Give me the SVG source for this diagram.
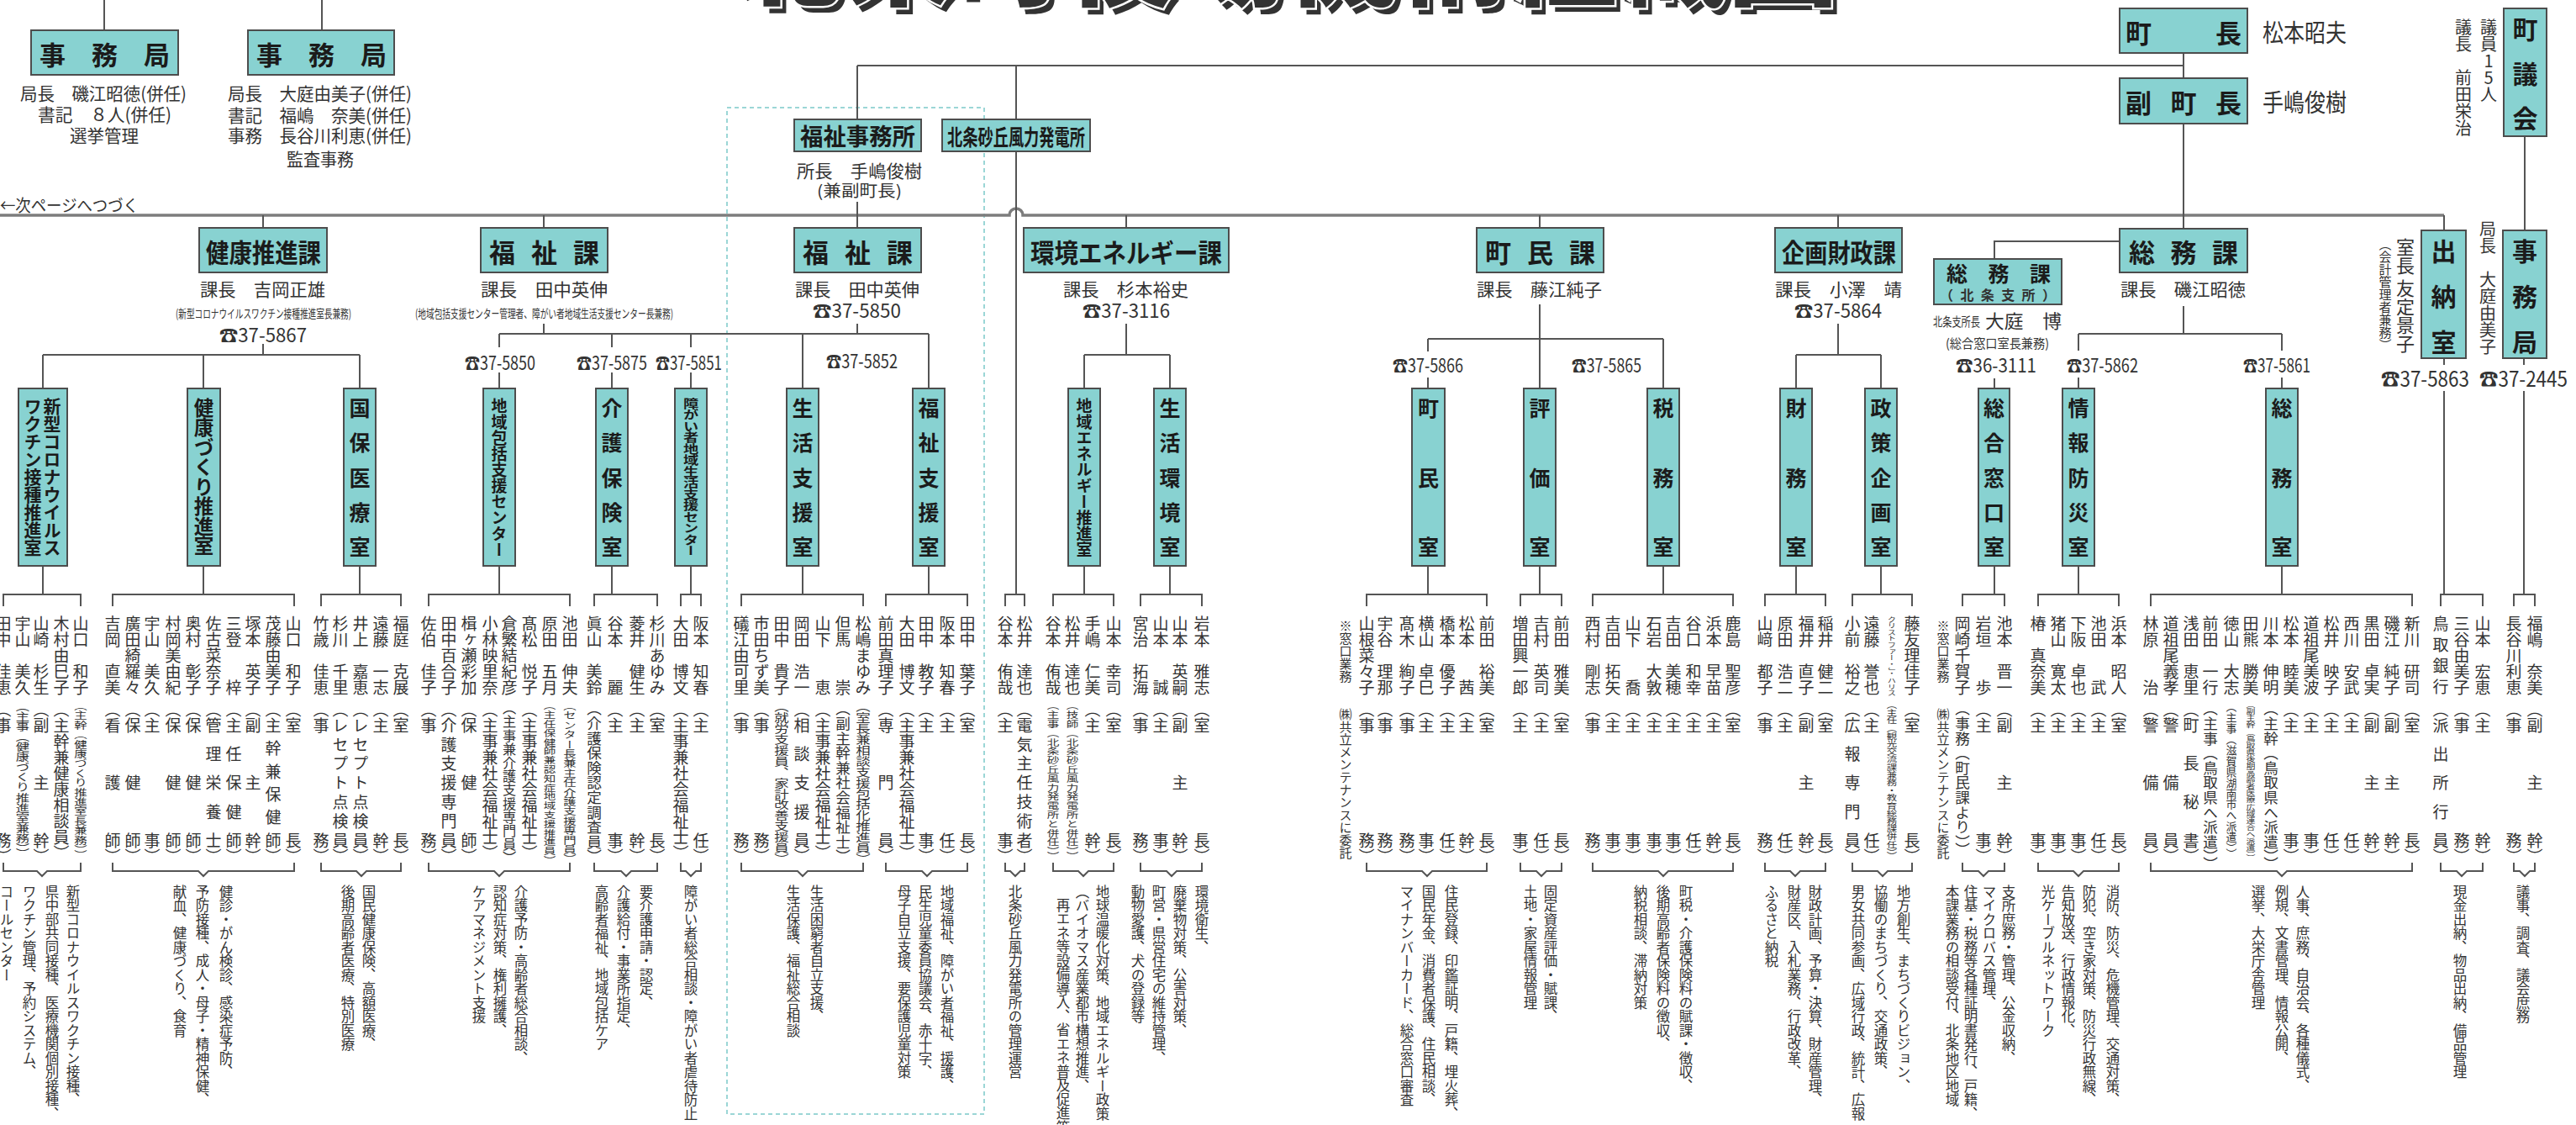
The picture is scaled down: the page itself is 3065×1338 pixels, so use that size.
<svg xmlns="http://www.w3.org/2000/svg" width="3065" height="1338" viewBox="0 0 3065 1338">
<defs>
<style>
text{font-family:"Noto Sans CJK JP","Noto Sans CJK SC","DejaVu Sans",sans-serif;fill:#333}
.bx{fill:#88d2d1;stroke:#4d4d4d;stroke-width:2}
.ln{fill:none;stroke:#555;stroke-width:2}
.mln{fill:none;stroke:#7d7d7d;stroke-width:3.5}
.dot{fill:none;stroke:#9bd6d6;stroke-width:2;stroke-dasharray:5 4}
.hb{font-weight:700;fill:#1b1b1b;dominant-baseline:central}
.h{dominant-baseline:central}
.vb{font-weight:700;fill:#1b1b1b;writing-mode:vertical-rl}
.v{writing-mode:vertical-rl}
.n{writing-mode:vertical-rl}
.t{writing-mode:vertical-rl}
.d{writing-mode:vertical-rl}
.w{transform-box:fill-box;transform-origin:center;transform:scaleX(1.35)}
</style>
</defs>
<rect width="3065" height="1338" fill="#fff"/>

<g id="title" font-weight="900" font-size="131">
<text x="879" y="4" fill="#6fb4b4" textLength="1315" lengthAdjust="spacingAndGlyphs">北栄町役場機構組織図</text>
<text x="872" y="-4" fill="#231f20" stroke="#fff" stroke-width="5" paint-order="stroke" textLength="1315" lengthAdjust="spacingAndGlyphs">北栄町役場機構組織図</text>
</g>

<rect class="dot" x="865" y="128" width="306" height="1197"/>

<g id="connectors">
<path class="mln" d="M0 256H1201a8 8 0 0 1 16 0H2908"/>
<path class="ln" d="M124 0V36M383 0V36M1020 78H2598M1020 78V142M1209 78V142M2598 63V93M2598 147V272M3004 162V274M1020 240V271M1209 180V707
M313 256V271M647 256V271M1340 256V271M1832 256V271M2187 256V271M2908 256V274
M313 409V422M51 422H428M51 422V462M242 422V462M428 422V462
M647 385V397M1020 385V397M594 397H1105M594 397V413M594 443V462M728 397V413M728 443V462M822 397V413M822 443V462M955 397V462M1105 397V462
M1340 385V422M1290 422H1392M1290 422V462M1392 422V462
M1832 362V462M1699 403H1979M1699 403V418M1699 449V462M1979 403V462
M2187 385V422M2137 422H2238M2137 422V462M2238 422V462
M2522 287H2373V308M2373 450V462M2598 364V397M2473 397H2715M2473 397V417M2473 449V462M2715 397V417M2715 449V462
M2908 426V434M2908 465V707M3003 426V434M3003 465V707
M51 673V707M242 673V707M428 673V707M594 673V707M728 673V707M822 673V707M955 673V707M1105 673V707M1290 673V707M1392 673V707M1699 673V707M1832 673V707M1979 673V707M2137 673V707M2238 673V707M2373 673V707M2473 673V707M2715 673V707
M4 721V707H96V721M134 721V707H350V721M382 721V707H477V721M510 721V707H678V721M707 721V707H782V721M810 721V707H834V721M882 721V707H1027V721M1054 721V707H1151V721M1196 721V707H1219V721M1253 721V707H1325V721M1357 721V707H1430V721M1626 721V707H1769V721M1809 721V707H1858V721M1895 721V707H2062V721M2100 721V707H2172V721M2204 721V707H2275V721M2335 721V707H2385V721M2425 721V707H2521V721M2559 721V707H2870V721M2904 721V707H2954V721M2991 721V707H3016V721
M4 1026V1036H44L50 1042L56 1036H96V1026M134 1026V1036H236L242 1042L248 1036H350V1026M382 1026V1036H424L430 1042L436 1036H477V1026M510 1026V1036H588L594 1042L600 1036H678V1026M707 1026V1036H739L745 1042L751 1036H782V1026M810 1026V1036H816L822 1042L828 1036H834V1026M882 1026V1036H949L955 1042L961 1036H1027V1026M1054 1026V1036H1097L1103 1042L1109 1036H1151V1026M1196 1026V1036H1202L1208 1042L1214 1036H1219V1026M1253 1026V1036H1283L1289 1042L1295 1036H1325V1026M1357 1026V1036H1388L1394 1042L1400 1036H1430V1026M1626 1026V1036H1692L1698 1042L1704 1036H1769V1026M1809 1026V1036H1828L1834 1042L1840 1036H1858V1026M1895 1026V1036H1973L1979 1042L1985 1036H2062V1026M2100 1026V1036H2130L2136 1042L2142 1036H2172V1026M2204 1026V1036H2234L2240 1042L2246 1036H2275V1026M2335 1026V1036H2354L2360 1042L2366 1036H2385V1026M2425 1026V1036H2467L2473 1042L2479 1036H2521V1026M2559 1026V1036H2709L2715 1042L2721 1036H2870V1026M2904 1026V1036H2923L2929 1042L2935 1036H2954V1026M2991 1026V1036H2998L3004 1042L3010 1036H3016V1026"/>
</g>

<g id="jimukyoku-senkyo">
<rect class="bx" x="37" y="36" width="175" height="53"/>
<text class="hb" x="47" y="63" font-size="31" textLength="155" lengthAdjust="spacing">事務局</text>
<text class="h" x="24" y="110" font-size="21" textLength="198" lengthAdjust="spacingAndGlyphs">局長　磯江昭徳(併任)</text>
<text class="h" x="45" y="135" font-size="21" textLength="159" lengthAdjust="spacingAndGlyphs">書記　８人(併任)</text>
<text class="h" x="83" y="160" font-size="21" textLength="82" lengthAdjust="spacingAndGlyphs">選挙管理</text>
</g>
<g id="jimukyoku-kansa">
<rect class="bx" x="295" y="36" width="174" height="53"/>
<text class="hb" x="305" y="63" font-size="31" textLength="155" lengthAdjust="spacing">事務局</text>
<text class="h" x="271" y="110" font-size="21" textLength="219" lengthAdjust="spacingAndGlyphs">局長　大庭由美子(併任)</text>
<text class="h" x="271" y="136" font-size="21" textLength="219" lengthAdjust="spacingAndGlyphs">書記　福嶋　奈美(併任)</text>
<text class="h" x="271" y="160" font-size="21" textLength="219" lengthAdjust="spacingAndGlyphs">事務　長谷川利恵(併任)</text>
<text class="h" x="341" y="188" font-size="21" textLength="80" lengthAdjust="spacingAndGlyphs">監査事務</text>
</g>
<text class="h" x="0" y="243" font-size="20" textLength="165" lengthAdjust="spacingAndGlyphs">←次ページへつづく</text>

<g id="chocho">
<rect class="bx" x="2522" y="10" width="152" height="53"/>
<text class="hb" x="2529" y="37" font-size="31" textLength="138" lengthAdjust="spacing">町長</text>
<text class="h" x="2692" y="37" font-size="29" textLength="100" lengthAdjust="spacingAndGlyphs">松本昭夫</text>
</g>
<g id="fukuchocho">
<rect class="bx" x="2522" y="93" width="152" height="54"/>
<text class="hb" x="2529" y="120" font-size="31" textLength="138" lengthAdjust="spacing">副町長</text>
<text class="h" x="2692" y="120" font-size="29" textLength="100" lengthAdjust="spacingAndGlyphs">手嶋俊樹</text>
</g>
<g id="gikai">
<rect class="bx" x="2979" y="10" width="51" height="152"/>
<text class="vb" x="3004.5" y="20" font-size="30" dy="0 23 23">町議会</text>
<text class="v" x="2961" y="22" font-size="20" style="text-orientation:upright">議員15人</text>
<text class="v" x="2931" y="22" font-size="20">議長　前田栄治</text>
</g>

<g id="fukushi-jimusho">
<rect class="bx" x="945" y="142" width="151" height="38"/>
<text class="hb" x="952" y="161" font-size="28" textLength="137" lengthAdjust="spacingAndGlyphs">福祉事務所</text>
<text class="h" x="948" y="202" font-size="21" textLength="149" lengthAdjust="spacingAndGlyphs">所長　手嶋俊樹</text>
<text class="h" x="972" y="225" font-size="19" textLength="101" lengthAdjust="spacingAndGlyphs">(兼副町長)</text>
</g>
<g id="furyoku">
<rect class="bx" x="1121" y="142" width="176" height="38"/>
<text class="hb" x="1127" y="161" font-size="26" textLength="164" lengthAdjust="spacingAndGlyphs">北条砂丘風力発電所</text>
</g>

<g id="dept-kenko">
<rect class="bx" x="237" y="271" width="152" height="53"/>
<text class="hb" x="245" y="298" font-size="31" textLength="137" lengthAdjust="spacingAndGlyphs">健康推進課</text>
<text class="h" x="238" y="343" font-size="21" textLength="149" lengthAdjust="spacingAndGlyphs">課長　吉岡正雄</text>
<text class="h" x="209" y="372" font-size="14" textLength="209" lengthAdjust="spacingAndGlyphs">(新型コロナウイルスワクチン接種推進室長兼務)</text>
<text class="h" x="261" y="397" font-size="23" textLength="104" lengthAdjust="spacingAndGlyphs">☎37-5867</text>
</g>
<g id="dept-fukushi-1">
<rect class="bx" x="572" y="271" width="151" height="53"/>
<text class="hb" x="582" y="298" font-size="31" textLength="131" lengthAdjust="spacing">福祉課</text>
<text class="h" x="572" y="343" font-size="21" textLength="151" lengthAdjust="spacingAndGlyphs">課長　田中英伸</text>
<text class="h" x="494" y="372" font-size="14" textLength="307" lengthAdjust="spacingAndGlyphs">(地域包括支援センター管理者、障がい者地域生活支援センター長兼務)</text>
<text class="h" x="553" y="430" font-size="23" textLength="84" lengthAdjust="spacingAndGlyphs">☎37-5850</text>
<text class="h" x="686" y="430" font-size="23" textLength="84" lengthAdjust="spacingAndGlyphs">☎37-5875</text>
<text class="h" x="780" y="430" font-size="23" textLength="79" lengthAdjust="spacingAndGlyphs">☎37-5851</text>
</g>
<g id="dept-fukushi-2">
<rect class="bx" x="945" y="271" width="151" height="53"/>
<text class="hb" x="955" y="298" font-size="31" textLength="131" lengthAdjust="spacing">福祉課</text>
<text class="h" x="946" y="343" font-size="21" textLength="148" lengthAdjust="spacingAndGlyphs">課長　田中英伸</text>
<text class="h" x="967" y="368" font-size="23" textLength="105" lengthAdjust="spacingAndGlyphs">☎37-5850</text>
<text class="h" x="983" y="428" font-size="23" textLength="85" lengthAdjust="spacingAndGlyphs">☎37-5852</text>
</g>
<g id="dept-kankyo">
<rect class="bx" x="1218" y="271" width="244" height="53"/>
<text class="hb" x="1226" y="298" font-size="31" textLength="228" lengthAdjust="spacingAndGlyphs">環境エネルギー課</text>
<text class="h" x="1265" y="343" font-size="21" textLength="149" lengthAdjust="spacingAndGlyphs">課長　杉本裕史</text>
<text class="h" x="1288" y="368" font-size="23" textLength="104" lengthAdjust="spacingAndGlyphs">☎37-3116</text>
</g>
<g id="dept-chomin">
<rect class="bx" x="1757" y="271" width="151" height="53"/>
<text class="hb" x="1767" y="298" font-size="31" textLength="131" lengthAdjust="spacing">町民課</text>
<text class="h" x="1757" y="343" font-size="21" textLength="149" lengthAdjust="spacingAndGlyphs">課長　藤江純子</text>
<text class="h" x="1657" y="433" font-size="23" textLength="84" lengthAdjust="spacingAndGlyphs">☎37-5866</text>
<text class="h" x="1870" y="433" font-size="23" textLength="83" lengthAdjust="spacingAndGlyphs">☎37-5865</text>
</g>
<g id="dept-kikaku">
<rect class="bx" x="2112" y="271" width="151" height="53"/>
<text class="hb" x="2120" y="298" font-size="31" textLength="136" lengthAdjust="spacingAndGlyphs">企画財政課</text>
<text class="h" x="2112" y="343" font-size="21" textLength="151" lengthAdjust="spacingAndGlyphs">課長　小澤　靖</text>
<text class="h" x="2135" y="368" font-size="23" textLength="104" lengthAdjust="spacingAndGlyphs">☎37-5864</text>
</g>
<g id="dept-somu">
<rect class="bx" x="2522" y="272" width="152" height="52"/>
<text class="hb" x="2533" y="298" font-size="31" textLength="130" lengthAdjust="spacing">総務課</text>
<text class="h" x="2523" y="343" font-size="21" textLength="149" lengthAdjust="spacingAndGlyphs">課長　磯江昭徳</text>
<text class="h" x="2459" y="433" font-size="23" textLength="85" lengthAdjust="spacingAndGlyphs">☎37-5862</text>
<text class="h" x="2669" y="433" font-size="23" textLength="80" lengthAdjust="spacingAndGlyphs">☎37-5861</text>
</g>
<g id="dept-somu-hojo">
<rect class="bx" x="2301" y="308" width="152" height="54"/>
<text class="hb" x="2316" y="324" font-size="25" textLength="124" lengthAdjust="spacing">総務課</text>
<text class="h" x="2308" y="350" font-size="16" font-weight="700" fill="#1b1b1b" textLength="138" lengthAdjust="spacing">（北条支所）</text>
<text class="h" x="2300" y="381" font-size="15" textLength="56" lengthAdjust="spacingAndGlyphs">北条支所長</text>
<text class="h" x="2362" y="380" font-size="22" textLength="91" lengthAdjust="spacingAndGlyphs">大庭　博</text>
<text class="h" x="2315" y="407" font-size="15" textLength="123" lengthAdjust="spacingAndGlyphs">(総合窓口室長兼務)</text>
<text class="h" x="2327" y="433" font-size="23" textLength="96" lengthAdjust="spacingAndGlyphs">☎36-3111</text>
</g>
<g id="suitoshitsu">
<rect class="bx" x="2881" y="274" width="53" height="152"/>
<text class="vb" x="2907.5" y="284" font-size="30" dy="0 24 24">出納室</text>
<text class="v" x="2862" y="283" font-size="22">室長 友定景子</text>
<text class="v" x="2838" y="283" font-size="15">（会計管理者兼務）</text>
<text class="h" x="2833" y="449" font-size="25" textLength="105" lengthAdjust="spacingAndGlyphs">☎37-5863</text>
</g>
<g id="gikai-jimukyoku">
<rect class="bx" x="2978" y="274" width="52" height="152"/>
<text class="vb" x="3004" y="284" font-size="30" dy="0 24 24">事務局</text>
<text class="v" x="2960" y="262" font-size="20">局長　大庭由美子</text>
<text class="h" x="2950" y="449" font-size="25" textLength="105" lengthAdjust="spacingAndGlyphs">☎37-2445</text>
</g>

<g id="room-corona" font-size="19">
<rect class="bx" x="22" y="462" width="58" height="211"/>
<text class="vb" x="62" y="473" font-size="21">新型コロナウイルス</text>
<text class="vb" x="39" y="473" font-size="21">ワクチン接種推進室</text>
<text class="n" x="96" y="732">山口　和子</text><text class="t w" x="96" y="834" font-size="11.4">（主幹（健康づくり推進室長兼務））</text>
<text class="n" x="73" y="732">木村由巳子</text><text class="t" x="73" y="834">（主幹兼健康相談員）</text>
<text class="n" x="49" y="732">山崎　杉生</text><text class="t" x="49" y="834" dy="0 0 49.5 49.5">（副主幹）</text>
<text class="n" x="27" y="732">宇山　美久</text><text class="t w" x="27" y="834" font-size="12.1">（主事（健康づくり推進室兼務））</text>
<text class="n" x="4" y="732">田中　佳恵</text><text class="t" x="4" y="834" dy="0 0 118">（事務）</text>
<text class="d" x="87" y="1052" font-size="16.5">新型コロナウイルスワクチン接種、</text>
<text class="d" x="62" y="1052" font-size="16.5">県中部共同接種、医療機関個別接種、</text>
<text class="d" x="35" y="1052" font-size="16.5">ワクチン管理、予約システム、</text>
<text class="d" x="8" y="1052" font-size="16.5">コールセンター</text>
</g>
<g id="room-kenkozukuri" font-size="19">
<rect class="bx" x="223" y="462" width="39" height="211"/>
<text class="vb" x="242.5" y="473" font-size="23.5">健康づくり推進室</text>
<text class="n" x="349" y="732">山口　和子</text><text class="t" x="349" y="834" dy="0 0 118">（室長）</text>
<text class="n" x="325" y="732">茂藤由美子</text><text class="t" x="325" y="834" dy="0 0 8.4 8.4 8.4 8.4 8.4">（主幹兼保健師）</text>
<text class="n" x="301" y="732">塚本　英子</text><text class="t" x="301" y="834" dy="0 0 49.5 49.5">（副主幹）</text>
<text class="n" x="278" y="732">三登　　梓</text><text class="t" x="278" y="834" dy="0 0 15.3 15.3 15.3 15.3">（主任保健師）</text>
<text class="n" x="254" y="732">佐古菜奈子</text><text class="t" x="254" y="834" dy="0 0 15.3 15.3 15.3 15.3">（管理栄養士）</text>
<text class="n" x="230" y="732">奥村　彰子</text><text class="t" x="230" y="834" dy="0 0 49.5 49.5">（保健師）</text>
<text class="n" x="206" y="732">村岡美由紀</text><text class="t" x="206" y="834" dy="0 0 49.5 49.5">（保健師）</text>
<text class="n" x="181" y="732">宇山　美久</text><text class="t" x="181" y="834" dy="0 0 118">（主事）</text>
<text class="n" x="158" y="732">廣田綺羅々</text><text class="t" x="158" y="834" dy="0 0 49.5 49.5">（保健師）</text>
<text class="n" x="134" y="732">吉岡　直美</text><text class="t" x="134" y="834" dy="0 0 49.5 49.5">（看護師）</text>
<text class="d" x="269" y="1052" font-size="16.5">健診・がん検診、感染症予防、</text>
<text class="d" x="241" y="1052" font-size="16.5">予防接種、成人・母子・精神保健、</text>
<text class="d" x="214" y="1052" font-size="16.5">献血、健康づくり、食育</text>
</g>
<g id="room-kokuho" font-size="19">
<rect class="bx" x="409" y="462" width="38" height="211"/>
<text class="vb" x="428" y="473" font-size="25" dy="0 16.25 16.25 16.25 16.25">国保医療室</text>
<text class="n" x="477" y="732">福庭　克展</text><text class="t" x="477" y="834" dy="0 0 118">（室長）</text>
<text class="n" x="453" y="732">遠藤　一志</text><text class="t" x="453" y="834" dy="0 0 118">（主幹）</text>
<text class="n" x="429" y="732">井上　嘉恵</text><text class="t" x="429" y="834" dy="0 0 3.8 3.8 3.8 3.8 3.8 3.8">（レセプト点検員）</text>
<text class="n" x="405" y="732">杉川　千里</text><text class="t" x="405" y="834" dy="0 0 3.8 3.8 3.8 3.8 3.8 3.8">（レセプト点検員）</text>
<text class="n" x="382" y="732">竹歳　佳恵</text><text class="t" x="382" y="834" dy="0 0 118">（事務）</text>
<text class="d" x="439" y="1052" font-size="16.5">国民健康保険、高額医療、</text>
<text class="d" x="414" y="1052" font-size="16.5">後期高齢者医療、特別医療</text>
</g>
<g id="room-chiikihokatsu" font-size="19">
<rect class="bx" x="575" y="462" width="38" height="211"/>
<text class="vb" x="594" y="473" font-size="19">地域包括支援センター</text>
<text class="n" x="678" y="732">池田　伸夫</text><text class="t w" x="678" y="834" font-size="11.4">（センター長兼主任介護支援専門員）</text>
<text class="n" x="654" y="732">原田　五月</text><text class="t w" x="654" y="834" font-size="10.8">（主任保健師兼認知症地域支援推進員）</text>
<text class="n" x="630" y="732">髙松　悦子</text><text class="t" x="630" y="834">（主事兼社会福祉士）</text>
<text class="n" x="606" y="732">倉繁結紀彦</text><text class="t" x="606" y="834" font-size="16.2">（主事兼介護支援専門員）</text>
<text class="n" x="583" y="732">小林映里奈</text><text class="t" x="583" y="834">（主事兼社会福祉士）</text>
<text class="n" x="558" y="732">楫ヶ瀬彩加</text><text class="t" x="558" y="834" dy="0 0 49.5 49.5">（保健師）</text>
<text class="n" x="534" y="732">田中百合子</text><text class="t" x="534" y="834" dy="0 0 3.8 3.8 3.8 3.8 3.8 3.8">（介護支援専門員）</text>
<text class="n" x="510" y="732">佐伯　佳子</text><text class="t" x="510" y="834" dy="0 0 118">（事務）</text>
<text class="d" x="620" y="1052" font-size="16.5">介護予防・高齢者総合相談、</text>
<text class="d" x="595" y="1052" font-size="16.5">認知症対策、権利擁護、</text>
<text class="d" x="570" y="1052" font-size="16.5">ケアマネジメント支援</text>
</g>
<g id="room-kaigo" font-size="19">
<rect class="bx" x="709" y="462" width="38" height="211"/>
<text class="vb" x="728" y="473" font-size="25" dy="0 16.25 16.25 16.25 16.25">介護保険室</text>
<text class="n" x="782" y="732">杉川あゆみ</text><text class="t" x="782" y="834" dy="0 0 118">（室長）</text>
<text class="n" x="758" y="732">菱井　健生</text><text class="t" x="758" y="834" dy="0 0 118">（主幹）</text>
<text class="n" x="732" y="732">谷本　　麗</text><text class="t" x="732" y="834" dy="0 0 118">（主事）</text>
<text class="n" x="707" y="732">眞山　美鈴</text><text class="t" x="707" y="834" font-size="17.6">（介護保険認定調査員）</text>
<text class="d" x="769" y="1052" font-size="16.5">要介護申請・認定、</text>
<text class="d" x="742" y="1052" font-size="16.5">介護給付・事業所指定、</text>
<text class="d" x="716" y="1052" font-size="16.5">高齢者福祉、地域包括ケア</text>
</g>
<g id="room-shogai" font-size="19">
<rect class="bx" x="803" y="462" width="38" height="211"/>
<text class="vb w" x="822" y="473" font-size="13.5">障がい者地域生活支援センター</text>
<text class="n" x="834" y="732">阪本　知春</text><text class="t" x="834" y="834" dy="0 0 118">（主任）</text>
<text class="n" x="810" y="732">大田　博文</text><text class="t" x="810" y="834">（主事兼社会福祉士）</text>
<text class="d" x="822" y="1052" font-size="16.5">障がい者総合相談・障がい者虐待防止</text>
</g>
<g id="room-seikatsushien" font-size="19">
<rect class="bx" x="936" y="462" width="38" height="211"/>
<text class="vb" x="955" y="473" font-size="25" dy="0 16.25 16.25 16.25 16.25">生活支援室</text>
<text class="n" x="1027" y="732">松嶋まゆみ</text><text class="t w" x="1027" y="834" font-size="12.9">（室長兼相談支援包括化推進員）</text>
<text class="n" x="1003" y="732">但馬　　崇</text><text class="t" x="1003" y="834" font-size="17.6">（副主幹兼社会福祉士）</text>
<text class="n" x="979" y="732">山下　　恵</text><text class="t" x="979" y="834">（主事兼社会福祉士）</text>
<text class="n" x="954" y="732">岡田　浩一</text><text class="t" x="954" y="834" dy="0 0 15.3 15.3 15.3 15.3">（相談支援員）</text>
<text class="n" x="930" y="732">田中　貴子</text><text class="t w" x="930" y="834" font-size="12.9">（就労支援員、家計改善支援員）</text>
<text class="n" x="906" y="732">市田ちず美</text><text class="t" x="906" y="834" dy="0 0 118">（事務）</text>
<text class="n" x="882" y="732">礒江由可里</text><text class="t" x="882" y="834" dy="0 0 118">（事務）</text>
<text class="d" x="972" y="1052" font-size="16.5">生活困窮者自立支援、</text>
<text class="d" x="944" y="1052" font-size="16.5">生活保護、福祉総合相談</text>
</g>
<g id="room-fukushishien" font-size="19">
<rect class="bx" x="1086" y="462" width="38" height="211"/>
<text class="vb" x="1105" y="473" font-size="25" dy="0 16.25 16.25 16.25 16.25">福祉支援室</text>
<text class="n" x="1151" y="732">田中　葉子</text><text class="t" x="1151" y="834" dy="0 0 118">（室長）</text>
<text class="n" x="1127" y="732">阪本　知春</text><text class="t" x="1127" y="834" dy="0 0 118">（主任）</text>
<text class="n" x="1102" y="732">田中　教子</text><text class="t" x="1102" y="834" dy="0 0 118">（主事）</text>
<text class="n" x="1079" y="732">大田　博文</text><text class="t" x="1079" y="834">（主事兼社会福祉士）</text>
<text class="n" x="1054" y="732">前田真理子</text><text class="t" x="1054" y="834" dy="0 0 49.5 49.5">（専門員）</text>
<text class="d" x="1127" y="1052" font-size="16.5">地域福祉、障がい者福祉、援護、</text>
<text class="d" x="1101" y="1052" font-size="16.5">民生児童委員協議会、赤十字、</text>
<text class="d" x="1076" y="1052" font-size="16.5">母子自立支援、要保護児童対策</text>
</g>
<g id="staff-furyoku" font-size="19">
<text class="n" x="1219" y="732">松井　達也</text><text class="t" x="1219" y="834" dy="0 0 3.8 3.8 3.8 3.8 3.8 3.8">（電気主任技術者）</text>
<text class="n" x="1196" y="732">谷本　侑哉</text><text class="t" x="1196" y="834" dy="0 0 118">（主事）</text>
<text class="d" x="1208" y="1052" font-size="16.5">北条砂丘風力発電所の管理運営</text>
</g>
<g id="room-chiikienergy" font-size="19">
<rect class="bx" x="1271" y="462" width="38" height="211"/>
<text class="vb" x="1290" y="473" font-size="19">地域エネルギー推進室</text>
<text class="n" x="1325" y="732">山本　幸司</text><text class="t" x="1325" y="834" dy="0 0 118">（室長）</text>
<text class="n" x="1300" y="732">手嶋　仁美</text><text class="t" x="1300" y="834" dy="0 0 118">（主幹）</text>
<text class="n" x="1276" y="732">松井　達也</text><text class="t w" x="1276" y="834" font-size="10.8">（技師（北条砂丘風力発電所と併任））</text>
<text class="n" x="1253" y="732">谷本　侑哉</text><text class="t w" x="1253" y="834" font-size="10.8">（主事（北条砂丘風力発電所と併任））</text>
<text class="d" x="1312" y="1052" font-size="16.5">地球温暖化対策、地域エネルギー政策</text>
<text class="d" x="1288" y="1052" font-size="16.5">（バイオマス産業都市構想推進、</text>
<text class="d" x="1265" y="1068" font-size="16.5">再エネ等設備導入、省エネ普及促進等）</text>
</g>
<g id="room-seikatsukankyo" font-size="19">
<rect class="bx" x="1373" y="462" width="38" height="211"/>
<text class="vb" x="1392" y="473" font-size="25" dy="0 16.25 16.25 16.25 16.25">生活環境室</text>
<text class="n" x="1430" y="732">岩本　雅志</text><text class="t" x="1430" y="834" dy="0 0 118">（室長）</text>
<text class="n" x="1404" y="732">山本　英嗣</text><text class="t" x="1404" y="834" dy="0 0 49.5 49.5">（副主幹）</text>
<text class="n" x="1381" y="732">山本　　誠</text><text class="t" x="1381" y="834" dy="0 0 118">（主事）</text>
<text class="n" x="1357" y="732">宮治　拓海</text><text class="t" x="1357" y="834" dy="0 0 118">（事務）</text>
<text class="d" x="1430" y="1052" font-size="16.5">環境衛生、</text>
<text class="d" x="1404" y="1052" font-size="16.5">廃棄物対策、公害対策、</text>
<text class="d" x="1379" y="1052" font-size="16.5">町営・県営住宅の維持管理、</text>
<text class="d" x="1354" y="1052" font-size="16.5">動物愛護、犬の登録等</text>
</g>
<g id="room-chominshitsu" font-size="19">
<rect class="bx" x="1680" y="462" width="39" height="211"/>
<text class="vb" x="1699.5" y="473" font-size="25" dy="0 57.5 57.5">町民室</text>
<text class="n" x="1769" y="732">前田　裕美</text><text class="t" x="1769" y="834" dy="0 0 118">（室長）</text>
<text class="n" x="1745" y="732">松本　　茜</text><text class="t" x="1745" y="834" dy="0 0 118">（主幹）</text>
<text class="n" x="1722" y="732">橋本　優子</text><text class="t" x="1722" y="834" dy="0 0 118">（主任）</text>
<text class="n" x="1697" y="732">横山　卓巳</text><text class="t" x="1697" y="834" dy="0 0 118">（主事）</text>
<text class="n" x="1674" y="732">髙木　絢子</text><text class="t" x="1674" y="834" dy="0 0 118">（事務）</text>
<text class="n" x="1648" y="732">宇谷　理那</text><text class="t" x="1648" y="834" dy="0 0 118">（事務）</text>
<text class="n" x="1626" y="732">山根菜々子</text><text class="t" x="1626" y="834" dy="0 0 118">（事務）</text>
<text class="v" x="1601" y="737" font-size="15">※窓口業務　　㈱共立メンテナンスに委託</text>
<text class="d" x="1727" y="1052" font-size="16.5">住民登録、印鑑証明、戸籍、埋火葬、</text>
<text class="d" x="1700" y="1052" font-size="16.5">国民年金、消費者保護、住民相談、</text>
<text class="d" x="1674" y="1052" font-size="16.5">マイナンバーカード、総合窓口審査</text>
</g>
<g id="room-hyoka" font-size="19">
<rect class="bx" x="1813" y="462" width="38" height="211"/>
<text class="vb" x="1832" y="473" font-size="25" dy="0 57.5 57.5">評価室</text>
<text class="n" x="1858" y="732">前田　雅美</text><text class="t" x="1858" y="834" dy="0 0 118">（室長）</text>
<text class="n" x="1834" y="732">吉村　英司</text><text class="t" x="1834" y="834" dy="0 0 118">（主任）</text>
<text class="n" x="1809" y="732">増田興一郎</text><text class="t" x="1809" y="834" dy="0 0 118">（主事）</text>
<text class="d" x="1845" y="1052" font-size="16.5">固定資産評価・賦課、</text>
<text class="d" x="1821" y="1052" font-size="16.5">土地・家屋情報管理</text>
</g>
<g id="room-zeimu" font-size="19">
<rect class="bx" x="1960" y="462" width="38" height="211"/>
<text class="vb" x="1979" y="473" font-size="25" dy="0 57.5 57.5">税務室</text>
<text class="n" x="2062" y="732">鹿島　聖彦</text><text class="t" x="2062" y="834" dy="0 0 118">（室長）</text>
<text class="n" x="2039" y="732">浜本　早苗</text><text class="t" x="2039" y="834" dy="0 0 118">（主幹）</text>
<text class="n" x="2015" y="732">谷口　和幸</text><text class="t" x="2015" y="834" dy="0 0 118">（主任）</text>
<text class="n" x="1991" y="732">吉田　美穂</text><text class="t" x="1991" y="834" dy="0 0 118">（主事）</text>
<text class="n" x="1968" y="732">石岩　大敦</text><text class="t" x="1968" y="834" dy="0 0 118">（主事）</text>
<text class="n" x="1943" y="732">山下　　喬</text><text class="t" x="1943" y="834" dy="0 0 118">（主事）</text>
<text class="n" x="1919" y="732">吉田　拓矢</text><text class="t" x="1919" y="834" dy="0 0 118">（主事）</text>
<text class="n" x="1895" y="732">西村　剛志</text><text class="t" x="1895" y="834" dy="0 0 118">（事務）</text>
<text class="d" x="2006" y="1052" font-size="16.5">町税・介護保険料の賦課・徴収、</text>
<text class="d" x="1979" y="1052" font-size="16.5">後期高齢者保険料の徴収、</text>
<text class="d" x="1952" y="1052" font-size="16.5">納税相談、滞納対策</text>
</g>
<g id="room-zaimu" font-size="19">
<rect class="bx" x="2118" y="462" width="38" height="211"/>
<text class="vb" x="2137" y="473" font-size="25" dy="0 57.5 57.5">財務室</text>
<text class="n" x="2172" y="732">稲井　健二</text><text class="t" x="2172" y="834" dy="0 0 118">（室長）</text>
<text class="n" x="2149" y="732">福井　直子</text><text class="t" x="2149" y="834" dy="0 0 49.5 49.5">（副主幹）</text>
<text class="n" x="2124" y="732">原田　浩二</text><text class="t" x="2124" y="834" dy="0 0 118">（主任）</text>
<text class="n" x="2100" y="732">山﨑　都子</text><text class="t" x="2100" y="834" dy="0 0 118">（事務）</text>
<text class="d" x="2160" y="1052" font-size="16.5">財政計画、予算・決算、財産管理、</text>
<text class="d" x="2135" y="1052" font-size="16.5">財産区、入札業務、行政改革、</text>
<text class="d" x="2108" y="1052" font-size="16.5">ふるさと納税</text>
</g>
<g id="room-seisaku" font-size="19">
<rect class="bx" x="2219" y="462" width="38" height="211"/>
<text class="vb" x="2238" y="473" font-size="25" dy="0 16.25 16.25 16.25 16.25">政策企画室</text>
<text class="n" x="2275" y="732">藤友理佳子</text><text class="t" x="2275" y="834" dy="0 0 118">（室長）</text>
<text class="n w" x="2251" y="733" font-size="7.6">クリストファー・J・ハリス</text><text class="t w" x="2251" y="834" font-size="9.2">（主任（観光交流課兼務・教育総務課併任））</text>
<text class="n" x="2227" y="732">遠藤　誉也</text><text class="t" x="2227" y="834" dy="0 0 118">（主任）</text>
<text class="n" x="2204" y="732">小前　裕之</text><text class="t" x="2204" y="834" dy="0 0 15.3 15.3 15.3 15.3">（広報専門員）</text>
<text class="d" x="2265" y="1052" font-size="16.5">地方創生、まちづくりビジョン、</text>
<text class="d" x="2238" y="1052" font-size="16.5">協働のまちづくり、交通政策、</text>
<text class="d" x="2211" y="1052" font-size="16.5">男女共同参画、広域行政、統計、広報</text>
</g>
<g id="room-sogomadoguchi" font-size="19">
<rect class="bx" x="2354" y="462" width="37" height="211"/>
<text class="vb" x="2372.5" y="473" font-size="25" dy="0 16.25 16.25 16.25 16.25">総合窓口室</text>
<text class="n" x="2385" y="732">池本　晋一</text><text class="t" x="2385" y="834" dy="0 0 49.5 49.5">（副主幹）</text>
<text class="n" x="2360" y="732">岩垣　　歩</text><text class="t" x="2360" y="834" dy="0 0 118">（主事）</text>
<text class="n" x="2335" y="732">岡崎千賀子</text><text class="t" x="2335" y="834" font-size="17.6">（事務（町民課より））</text>
<text class="v" x="2312" y="737" font-size="15">※窓口業務　　㈱共立メンテナンスに委託</text>
<text class="d" x="2390" y="1052" font-size="16.5">支所庶務・管理、公金収納、</text>
<text class="d" x="2367" y="1052" font-size="16.5">マイクロバス管理、</text>
<text class="d" x="2345" y="1052" font-size="16.5">住基・税務等各種証明書発行、戸籍、</text>
<text class="d" x="2323" y="1052" font-size="16.5">本課業務の相談受付、北条地区地域</text>
</g>
<g id="room-johobosai" font-size="19">
<rect class="bx" x="2454" y="462" width="38" height="211"/>
<text class="vb" x="2473" y="473" font-size="25" dy="0 16.25 16.25 16.25 16.25">情報防災室</text>
<text class="n" x="2521" y="732">浜本　昭人</text><text class="t" x="2521" y="834" dy="0 0 118">（室長）</text>
<text class="n" x="2497" y="732">池田　　武</text><text class="t" x="2497" y="834" dy="0 0 118">（主任）</text>
<text class="n" x="2473" y="732">下阪　卓也</text><text class="t" x="2473" y="834" dy="0 0 118">（主事）</text>
<text class="n" x="2449" y="732">猪山　寛太</text><text class="t" x="2449" y="834" dy="0 0 118">（主事）</text>
<text class="n" x="2425" y="732">椿　真奈美</text><text class="t" x="2425" y="834" dy="0 0 118">（主事）</text>
<text class="d" x="2514" y="1052" font-size="16.5">消防、防災、危機管理、交通対策、</text>
<text class="d" x="2486" y="1052" font-size="16.5">防犯、空き家対策、防災行政無線、</text>
<text class="d" x="2461" y="1052" font-size="16.5">告知放送、行政情報化、</text>
<text class="d" x="2437" y="1052" font-size="16.5">光ケーブルネットワーク</text>
</g>
<g id="room-somushitsu" font-size="19">
<rect class="bx" x="2696" y="462" width="38" height="211"/>
<text class="vb" x="2715" y="473" font-size="25" dy="0 57.5 57.5">総務室</text>
<text class="n" x="2870" y="732">新川　研司</text><text class="t" x="2870" y="834" dy="0 0 118">（室長）</text>
<text class="n" x="2846" y="732">磯江　純子</text><text class="t" x="2846" y="834" dy="0 0 49.5 49.5">（副主幹）</text>
<text class="n" x="2822" y="732">黒田　卓実</text><text class="t" x="2822" y="834" dy="0 0 49.5 49.5">（副主幹）</text>
<text class="n" x="2798" y="732">西川　安武</text><text class="t" x="2798" y="834" dy="0 0 118">（主任）</text>
<text class="n" x="2774" y="732">松井　映子</text><text class="t" x="2774" y="834" dy="0 0 118">（主任）</text>
<text class="n" x="2750" y="732">道祖尾美波</text><text class="t" x="2750" y="834" dy="0 0 118">（主事）</text>
<text class="n" x="2726" y="732">松本　睦美</text><text class="t" x="2726" y="834" dy="0 0 118">（主事）</text>
<text class="n" x="2702" y="732">川本　伸明</text><text class="t" x="2702" y="834" font-size="17.6">（主幹（鳥取県へ派遣））</text>
<text class="n" x="2678" y="732">田熊　勝美</text><text class="t w" x="2678" y="834" font-size="8.1">（副主幹（鳥取県後期高齢者医療広域連合へ派遣））</text>
<text class="n" x="2655" y="732">徳山　大志</text><text class="t" x="2655" y="834" font-size="12.9">（主事（滋賀県湖南市へ派遣））</text>
<text class="n" x="2630" y="732">前田　一行</text><text class="t" x="2630" y="834" font-size="17.6">（主事（鳥取県へ派遣））</text>
<text class="n" x="2607" y="732">浅田　恵里</text><text class="t" x="2607" y="834" dy="0 0 26.7 26.7 26.7">（町長秘書）</text>
<text class="n" x="2583" y="732">道祖尾義孝</text><text class="t" x="2583" y="834" dy="0 0 49.5 49.5">（警備員）</text>
<text class="n" x="2559" y="732">林原　　治</text><text class="t" x="2559" y="834" dy="0 0 49.5 49.5">（警備員）</text>
<text class="d" x="2740" y="1052" font-size="16.5">人事、庶務、自治会、各種儀式、</text>
<text class="d" x="2715" y="1052" font-size="16.5">例規、文書管理、情報公開、</text>
<text class="d" x="2687" y="1052" font-size="16.5">選挙、大栄庁舎管理</text>
</g>
<g id="staff-suito" font-size="19">
<text class="n" x="2954" y="732">山本　宏恵</text><text class="t" x="2954" y="834" dy="0 0 118">（主幹）</text>
<text class="n" x="2929" y="732">三谷由美子</text><text class="t" x="2929" y="834" dy="0 0 118">（事務）</text>
<text class="n" x="2904" y="732" dy="0 6 6 6">鳥取銀行</text><text class="t" x="2904" y="834" dy="0 0 15.3 15.3 15.3 15.3">（派出所行員）</text>
<text class="d" x="2927" y="1052" font-size="16.5">現金出納、物品出納、備品管理</text>
</g>
<g id="staff-gikaijimukyoku" font-size="19">
<text class="n" x="3016" y="732">福嶋　奈美</text><text class="t" x="3016" y="834" dy="0 0 49.5 49.5">（副主幹）</text>
<text class="n" x="2991" y="732">長谷川利恵</text><text class="t" x="2991" y="834" dy="0 0 118">（事務）</text>
<text class="d" x="3002" y="1052" font-size="16.5">議事、調査、議会庶務</text>
</g>
</svg>
